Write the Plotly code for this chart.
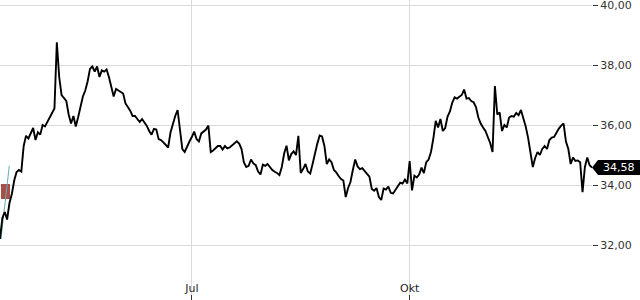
import pandas as pd
import plotly.graph_objects as go

start_date = "2024-04-11"
close_values = [
    32.2, 32.9, 33.1, 32.85, 33.4, 33.7, 34.15, 34.43, 34.5, 34.45,
    35.3, 35.64, 35.55, 35.7, 35.9, 35.5, 35.76, 35.68, 36.0, 35.95,
    36.1, 36.3, 36.45, 36.55, 38.76, 37.6, 37.0, 36.9, 36.8, 36.35,
    36.05, 36.3, 35.95, 36.26, 36.6, 36.95, 37.15, 37.45, 37.87, 37.95,
    37.78, 37.95, 37.6, 37.82, 37.78, 37.85, 37.6, 37.3, 36.95, 37.2,
    37.15, 37.1, 37.05, 36.72, 36.6, 36.48, 36.3, 36.3, 36.2, 36.1,
    36.2, 36.08, 35.97, 35.8, 35.68, 35.87, 35.85, 35.53, 35.5, 35.42,
    35.35, 35.25, 35.75, 36.05, 36.3, 36.5, 35.75, 35.2, 35.1, 35.3,
    35.45, 35.6, 35.78, 35.53, 35.45, 35.72, 35.78, 35.85, 35.98, 35.1,
    35.15, 35.22, 35.3, 35.3, 35.18, 35.3, 35.22, 35.25, 35.32, 35.36,
    35.46, 35.38, 35.2, 34.75, 34.6, 34.64, 34.85, 34.72, 34.66, 34.45,
    34.35, 34.68, 34.64, 34.7, 34.59, 34.5, 34.44, 34.4, 34.33, 34.6,
    35.05, 35.31, 34.82, 35.03, 35.12, 35.0, 35.64, 34.4, 34.53, 34.7,
    34.45, 34.38, 34.7, 35.07, 35.38, 35.65, 35.62, 35.3, 34.7, 34.85,
    34.76, 34.5, 34.42, 34.3, 34.2, 34.15, 33.6, 33.9, 34.1, 34.5,
    34.85, 34.62, 34.53, 34.56, 34.45, 34.37, 34.28, 33.87, 33.81, 33.9,
    33.6, 33.5, 33.88, 33.85, 33.95, 33.74, 33.72, 33.86, 33.96, 34.08,
    34.05, 34.18, 34.05, 34.8, 33.82, 34.31, 34.25, 34.35, 34.58, 34.4,
    34.76, 34.85, 35.1, 35.55, 36.14, 35.92, 36.2, 35.8, 35.9, 36.28,
    36.45, 36.75, 36.92, 36.88, 36.95, 37.0, 37.18, 36.88, 36.9, 36.8,
    36.76, 36.6, 36.25, 36.05, 35.92, 35.8, 35.6, 35.4, 35.1, 37.3,
    36.35, 36.42, 35.8, 36.0, 35.92, 36.25, 36.3, 36.28, 36.4, 36.33,
    36.5, 36.25, 35.95, 35.58, 35.15, 34.6, 34.9, 35.1, 35.0, 35.2,
    35.3, 35.2, 35.5, 35.58, 35.6, 35.76, 35.88, 35.98, 36.05, 35.45,
    35.2, 34.7, 34.92, 34.8, 34.82, 34.76, 33.76, 34.6, 34.92, 34.66,
    34.58,
]
dates = pd.date_range(start_date, periods=len(close_values), freq="D")

candle_date = ["2024-04-13 06:00"]
candle_open = [34.03]
candle_close = [33.53]

trend_dates = ["2024-04-11 10:00", "2024-04-14 22:00"]
trend_values = [32.2, 34.64]

x_tick_vals = ["2024-07-01", "2024-10-01"]
x_tick_text = ["Jul", "Okt"]
y_tick_vals = [32, 34, 36, 38, 40]

FONT = "DejaVu Sans"

fig = go.Figure()
fig.add_trace(go.Bar(
    x=candle_date,
    y=[candle_open[0] - candle_close[0]],
    base=candle_close,
    width=[3.6 * 86400000],
    marker=dict(color="#a3473d", line=dict(width=0)),
    opacity=0.95,
    hoverinfo="skip",
))
fig.add_trace(go.Scatter(
    x=trend_dates, y=trend_values, mode="lines",
    line=dict(color="#5fb0b5", width=1), hoverinfo="skip",
))
fig.add_trace(go.Scatter(
    x=dates, y=close_values, mode="lines",
    line=dict(color="#000000", width=1.9),
))

last_val = close_values[-1]
fig.add_shape(
    type="path", xref="paper", yref="y",
    xsizemode="pixel", ysizemode="pixel",
    xanchor=1, yanchor=last_val,
    path="M 0,0 L 6,7.5 L 48,7.5 L 48,-7.5 L 6,-7.5 Z",
    fillcolor="#000000", line=dict(width=0), layer="above",
)
fig.add_annotation(
    x=1, xref="paper", y=last_val, yref="y",
    xanchor="left", yanchor="middle", xshift=9,
    text=f"{last_val:.2f}".replace(".", ","),
    showarrow=False,
    font=dict(family=FONT, size=11, color="#ffffff"),
)

fig.update_layout(
    width=640, height=300,
    margin=dict(l=0, r=48, t=0, b=0),
    paper_bgcolor="#ffffff", plot_bgcolor="#ffffff",
    showlegend=False,
    separators=",.",
    font=dict(family=FONT, size=11, color="#333333"),
    bargap=0,
)
fig.update_xaxes(
    range=["2024-04-11", "2024-12-17"],
    tickvals=x_tick_vals, ticktext=x_tick_text,
    ticks="inside", ticklen=5, tickcolor="#333333",
    ticklabelposition="inside",
    showgrid=True, gridcolor="#d9d9d9", gridwidth=1,
    showline=False, zeroline=False,
    tickfont=dict(family=FONT, size=11, color="#222222"),
)
fig.update_yaxes(
    side="right",
    range=[30.167, 40.167],
    tickvals=y_tick_vals, tickformat=".2f",
    ticks="outside", ticklen=5, tickcolor="#333333",
    ticklabeloverflow="allow",
    showgrid=True, gridcolor="#d9d9d9", gridwidth=1,
    showline=False, zeroline=False,
    tickfont=dict(family=FONT, size=11, color="#333333"),
)

fig.write_html("out.html")
